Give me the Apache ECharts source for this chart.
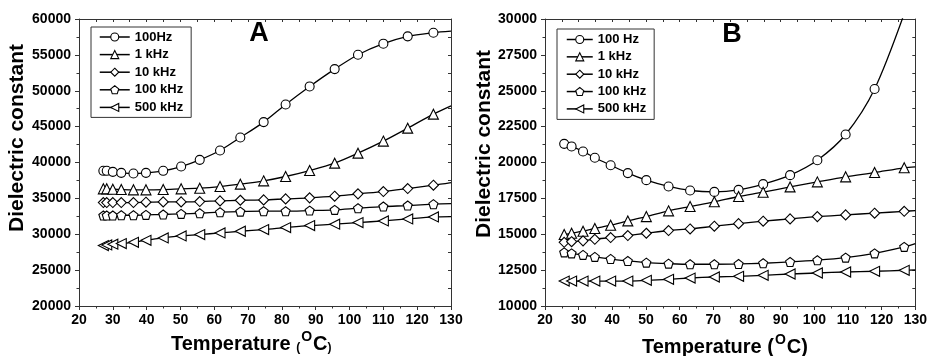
<!DOCTYPE html>
<html>
<head>
<meta charset="utf-8">
<script src="https://cdn.jsdelivr.net/npm/echarts@6/dist/echarts.min.js"></script>
<style>html,body{margin:0;padding:0;background:#fff}#c{width:930px;height:356px}</style>
</head>
<body>
<div id="c"></div>
<script>
// ---------- Data ----------
var A_NAMES = ['100Hz', '1 kHz', '10 kHz', '100 kHz', '500 kHz'];
var B_NAMES = ['100 Hz', '1 kHz', '10 kHz', '100 kHz', '500 kHz'];

var A_TEMP = [27.2, 28.2, 30.0, 32.5, 36.1, 39.8, 44.9, 50.2, 55.7, 61.7, 67.7, 74.6, 81.1, 88.2, 95.6, 102.5, 110.0, 117.2, 124.8];
var A_100Hz = [38840, 38840, 38700, 38560, 38470, 38560, 38840, 39440, 40370, 41680, 43490, 45630, 48090, 50600, 53020, 55020, 56560, 57580, 58090];
var A_1kHz  = [36330, 36330, 36280, 36230, 36190, 36190, 36230, 36330, 36420, 36650, 36980, 37440, 38050, 38880, 39910, 41300, 42980, 44790, 46740];
var A_10kHz = [34420, 34420, 34420, 34420, 34420, 34470, 34510, 34510, 34560, 34650, 34740, 34790, 34930, 35070, 35300, 35630, 35950, 36370, 36840];
var A_100kHz= [32610, 32610, 32610, 32650, 32650, 32700, 32750, 32840, 32930, 33070, 33160, 33210, 33210, 33300, 33400, 33630, 33860, 34000, 34190];
var A_500kHz= [28420, 28510, 28610, 28700, 28880, 29160, 29490, 29770, 29950, 30190, 30420, 30650, 30930, 31210, 31400, 31630, 31860, 32140, 32420];
// where each curve leaves the right edge of panel A (no marker)
var A_END_T = [130, 130, 130, 130, 130];
var A_END_V = [58300, 47900, 37210, 34280, 32470];

var B_TEMP = [25.7, 27.9, 31.3, 34.8, 39.5, 44.6, 50.1, 56.7, 63.1, 70.3, 77.5, 84.8, 92.8, 100.9, 109.3, 117.9, 126.7];
var B_100Hz = [21300, 21120, 20770, 20330, 19810, 19260, 18770, 18330, 18050, 17950, 18090, 18490, 19120, 20160, 21950, 25120];
var B_1kHz  = [14980, 15070, 15210, 15400, 15630, 15930, 16230, 16630, 16930, 17260, 17630, 17930, 18300, 18650, 19000, 19300, 19630];
var B_10kHz = [14440, 14480, 14540, 14650, 14770, 14910, 15070, 15260, 15370, 15560, 15740, 15910, 16070, 16230, 16350, 16470, 16600];
var B_100kHz= [13740, 13670, 13560, 13420, 13280, 13140, 13020, 12950, 12910, 12910, 12930, 12980, 13070, 13190, 13370, 13670, 14120];
var B_500kHz= [11740, 11740, 11740, 11740, 11740, 11740, 11790, 11860, 11950, 12020, 12070, 12140, 12230, 12300, 12370, 12420, 12490];
// where each curve leaves panel B (100 Hz leaves through the top)
var B_END_T = [127.5, 130, 130, 130, 130];
var B_END_V = [30900, 19690, 16650, 14350, 12510];

var X_MIN = 20, X_MAX = 130, X_STEP = 10;
var A_Y_MIN = 20000, A_Y_MAX = 60000, A_Y_STEP = 5000;
var B_Y_MIN = 10000, B_Y_MAX = 30000, B_Y_STEP = 2500;

// ---------- Styles ----------
var FONT = '"Liberation Sans", Arial, Helvetica, sans-serif';
var AXIS_COLOR = '#333';
var PENTAGON = 'path://M0,-1L0.951,-0.309L0.588,0.809L-0.588,0.809L-0.951,-0.309Z';
var SYMBOLS = [
  {symbol: 'circle', rotate: 0, size: 9},
  {symbol: 'triangle', rotate: 0, size: 10},
  {symbol: 'diamond', rotate: 0, size: 10},
  {symbol: PENTAGON, rotate: 0, size: 9},
  {symbol: 'triangle', rotate: 90, size: 10}
];

function pairs(t, v, endT, endV) {
  var out = [];
  for (var i = 0; i < v.length; i++) out.push([t[i], v[i]]);
  out.push({value: [endT, endV], symbol: 'none'});
  return out;
}

function makeSeries(names, temps, arrays, endT, endV, gi) {
  return arrays.map(function (arr, i) {
    return {
      name: names[i],
      type: 'line',
      xAxisIndex: gi * 2,
      yAxisIndex: gi * 2,
      data: pairs(temps, arr, endT[i], endV[i]),
      symbol: SYMBOLS[i].symbol,
      symbolRotate: SYMBOLS[i].rotate,
      symbolSize: SYMBOLS[i].size,
      showAllSymbol: true,
      smooth: 0.3,
      clip: true,
      lineStyle: {color: '#000', width: 1.3},
      itemStyle: {color: '#fff', borderColor: '#000', borderWidth: 1.1},
      emphasis: {disabled: true},
      animation: false,
      z: 3
    };
  });
}

function plain(v) { return String(v); }

function xAxes(gi) {
  var common = {gridIndex: gi, type: 'value', min: X_MIN, max: X_MAX, interval: X_STEP,
    splitLine: {show: false}, axisLine: {show: true, lineStyle: {color: AXIS_COLOR, width: 1}}};
  return [
    Object.assign({}, common, {position: 'bottom',
      axisTick: {show: true, inside: false, length: 4, lineStyle: {color: AXIS_COLOR}},
      minorTick: {show: true, splitNumber: 2, length: 2.5, lineStyle: {color: AXIS_COLOR}},
      axisLabel: {show: true, margin: 7, color: '#000', fontFamily: FONT, fontWeight: 'bold', fontSize: 14, formatter: plain}}),
    Object.assign({}, common, {position: 'top',
      axisTick: {show: true, inside: true, length: 3, lineStyle: {color: AXIS_COLOR}},
      minorTick: {show: true, splitNumber: 2, length: 3, lineStyle: {color: AXIS_COLOR}},
      axisLabel: {show: false}})
  ];
}

function yAxes(gi, min, max, step) {
  var common = {gridIndex: gi, type: 'value', min: min, max: max, interval: step,
    splitLine: {show: false}, axisLine: {show: true, lineStyle: {color: AXIS_COLOR, width: 1}}};
  return [
    Object.assign({}, common, {position: 'left',
      axisTick: {show: true, inside: false, length: 4, lineStyle: {color: AXIS_COLOR}},
      minorTick: {show: true, splitNumber: 2, length: 2.5, lineStyle: {color: AXIS_COLOR}},
      axisLabel: {show: true, margin: 8, color: '#000', fontFamily: FONT, fontWeight: 'bold', fontSize: 14, formatter: plain}}),
    Object.assign({}, common, {position: 'right',
      axisTick: {show: true, inside: true, length: 3, lineStyle: {color: AXIS_COLOR}},
      minorTick: {show: true, splitNumber: 2, length: 3, lineStyle: {color: AXIS_COLOR}},
      axisLabel: {show: false}})
  ];
}

function legend(names, left, top, itemWidth, itemGap, padding) {
  return {
    data: names, orient: 'vertical', left: left, top: top,
    itemWidth: itemWidth, itemHeight: 10, itemGap: itemGap,
    padding: padding, borderColor: '#333', borderWidth: 1, backgroundColor: '#fff',
    selectedMode: false,
    textStyle: {color: '#000', fontFamily: FONT, fontWeight: 'bold', fontSize: 13},
    itemStyle: {color: '#fff', borderColor: '#000', borderWidth: 1.1},
    lineStyle: {color: '#000', width: 1.5}
  };
}

function yName(x, y) {
  return {type: 'text', x: x, y: y, rotation: Math.PI / 2, z: 10,
    style: {text: 'Dielectric constant', fill: '#000', font: 'bold 21px ' + FONT,
      align: 'center', verticalAlign: 'middle', textAlign: 'center', textVerticalAlign: 'middle'}};
}

function xName(x, y, parenSize) {
  return {type: 'text', x: x, y: y, z: 10,
    style: {text: '{t|Temperature }{p|(}{s|O}{c|C}{p|)}', fill: '#000',
      font: 'bold 20px ' + FONT, align: 'left', verticalAlign: 'middle', textAlign: 'left', textVerticalAlign: 'middle',
      rich: {
        t: {fontSize: 20, fontWeight: 'bold', fontFamily: FONT, fill: '#000', lineHeight: 24, verticalAlign: 'bottom'},
        p: {fontSize: parenSize, fontWeight: 'bold', fontFamily: FONT, fill: '#000', lineHeight: parenSize + 4, verticalAlign: 'bottom'},
        s: {fontSize: 14, fontWeight: 'bold', fontFamily: FONT, fill: '#000', lineHeight: 14, verticalAlign: 'top', padding: [0, 1, 0, 1]},
        c: {fontSize: 20, fontWeight: 'bold', fontFamily: FONT, fill: '#000', lineHeight: 24, verticalAlign: 'bottom'}
      }}};
}

function title(txt, x, y) {
  return {type: 'text', x: x, y: y, z: 10,
    style: {text: txt, fill: '#000', font: 'bold 27px ' + FONT,
      align: 'center', verticalAlign: 'middle', textAlign: 'center', textVerticalAlign: 'middle'}};
}

var chart = echarts.init(document.getElementById('c'), null, {renderer: 'canvas'});
var option = {
  backgroundColor: '#fff',
  animation: false,
  grid: [
    {left: 79, top: 19, width: 372, height: 287, containLabel: false},
    {left: 545, top: 19, width: 372, height: 287, containLabel: false}
  ],
  xAxis: xAxes(0).concat(xAxes(1)),
  yAxis: yAxes(0, A_Y_MIN, A_Y_MAX, A_Y_STEP).concat(yAxes(1, B_Y_MIN, B_Y_MAX, B_Y_STEP)),
  legend: [
    legend(A_NAMES, 91, 27, 30, 4.6, [3.5, 8, 3.5, 8]),
    legend(B_NAMES, 557, 29, 26, 4.35, [4, 8, 4, 9])
  ],
  series: makeSeries(A_NAMES, A_TEMP, [A_100Hz, A_1kHz, A_10kHz, A_100kHz, A_500kHz], A_END_T, A_END_V, 0)
    .concat(makeSeries(B_NAMES, B_TEMP, [B_100Hz, B_1kHz, B_10kHz, B_100kHz, B_500kHz], B_END_T, B_END_V, 1)),
  graphic: [
    title('A', 259, 34),
    title('B', 732, 35),
    yName(17, 138),
    yName(484, 144),
    xName(171, 342, 12),
    xName(642, 345, 20)
  ]
};
chart.setOption(option);
</script>
</body>
</html>
